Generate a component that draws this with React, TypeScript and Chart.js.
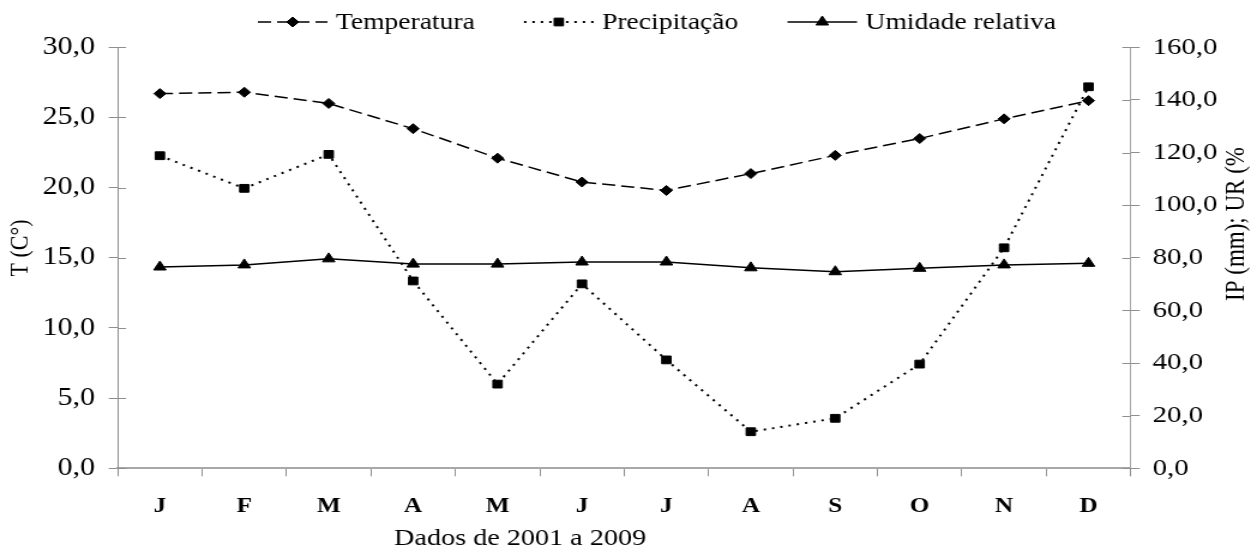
import React, { useEffect, useRef } from 'react';
import { Chart, registerables } from 'chart.js';

Chart.register(...registerables);

// ---- data ----
const months = ['J', 'F', 'M', 'A', 'M', 'J', 'J', 'A', 'S', 'O', 'N', 'D'];
const temperatura = [26.7, 26.8, 26.0, 24.2, 22.1, 20.4, 19.8, 21.0, 22.3, 23.5, 24.9, 26.2];
const precipitacao = [118.8, 106.4, 119.3, 71.2, 32.0, 70.1, 41.2, 13.9, 19.0, 39.6, 83.8, 145.0];
const umidade = [76.5, 77.3, 79.6, 77.6, 77.6, 78.4, 78.4, 76.2, 74.7, 76.0, 77.3, 77.9];
const seriesNames = ['Temperatura', 'Precipitação', 'Umidade relativa'];
const leftAxisRange = [0, 30, 5];
const rightAxisRange = [0, 160, 20];
const leftTitle = 'T (C°)';
const rightTitle = 'IP (mm); UR (%';
const xTitle = 'Dados de 2001 a 2009';

// ---- layout / style ----
const SCREEN_W = 1257;
const CH = 554;
const CW = 1048; // internal width, stretched horizontally to SCREEN_W like the reference
const FONT = '"Liberation Serif", "Times New Roman", Times, serif';
const GRAY = '#8f8f8f';

const fmt = (v: any) => Number(v).toFixed(1).replace('.', ',');

function drawMarker(ctx: CanvasRenderingContext2D, style: string, x: number, y: number, r: number) {
  ctx.beginPath();
  if (style === 'rectRot') {
    ctx.moveTo(x - r, y);
    ctx.lineTo(x, y - r);
    ctx.lineTo(x + r, y);
    ctx.lineTo(x, y + r);
  } else if (style === 'rect') {
    const s = r * Math.SQRT1_2;
    ctx.rect(x - s, y - s, 2 * s, 2 * s);
  } else {
    for (let k = 0; k < 3; k++) {
      const a = (k * 2 * Math.PI) / 3;
      const px = x + Math.sin(a) * r;
      const py = y - Math.cos(a) * r;
      if (k === 0) ctx.moveTo(px, py);
      else ctx.lineTo(px, py);
    }
  }
  ctx.closePath();
  ctx.fill();
  ctx.stroke();
}

const decorPlugin = {
  id: 'decor',
  afterDraw(chart: any) {
    const ctx: CanvasRenderingContext2D = chart.ctx;
    ctx.save();

    // inner halves of the crossing tick marks on the value axes
    ctx.strokeStyle = GRAY;
    ctx.lineWidth = 1;
    ctx.setLineDash([]);
    const yL = chart.scales.y;
    const yR = chart.scales.y1;
    yL.ticks.forEach((_t: any, i: number) => {
      const py = Math.round(yL.getPixelForTick(i)) + 0.5;
      ctx.beginPath();
      ctx.moveTo(yL.right, py);
      ctx.lineTo(yL.right + 7, py);
      ctx.stroke();
    });
    yR.ticks.forEach((_t: any, i: number) => {
      const py = Math.round(yR.getPixelForTick(i)) + 0.5;
      ctx.beginPath();
      ctx.moveTo(yR.left - 7, py);
      ctx.lineTo(yR.left, py);
      ctx.stroke();
    });

    // legend
    ctx.font = `23px ${FONT}`;
    ctx.textBaseline = 'middle';
    ctx.textAlign = 'left';
    let x = 215;
    const ly = 22;
    const sw = 58;
    chart.data.datasets.forEach((ds: any) => {
      ctx.strokeStyle = ds.borderColor;
      ctx.lineWidth = ds.borderWidth;
      ctx.setLineDash(ds.borderDash || []);
      ctx.beginPath();
      ctx.moveTo(x, ly);
      ctx.lineTo(x + sw, ly);
      ctx.stroke();
      ctx.setLineDash([]);
      ctx.fillStyle = '#000';
      ctx.strokeStyle = '#000';
      ctx.lineWidth = 1;
      drawMarker(ctx, ds.pointStyle, x + sw / 2, ly, ds.pointRadius);
      ctx.fillStyle = '#000';
      ctx.fillText(ds.label, x + sw + 7, ly + 1);
      x += sw + 7 + ctx.measureText(ds.label).width + 41;
    });

    // axis titles
    ctx.fillStyle = '#000';
    ctx.textAlign = 'center';
    ctx.textBaseline = 'middle';
    ctx.font = `22px ${FONT}`;
    ctx.save();
    ctx.translate(17.5, 248);
    ctx.rotate(-Math.PI / 2);
    ctx.fillText(leftTitle, 0, 0);
    ctx.restore();

    ctx.font = `23px ${FONT}`;
    ctx.save();
    ctx.translate(1031, 224);
    ctx.rotate(-Math.PI / 2);
    ctx.fillText(rightTitle, 0, 0);
    ctx.restore();

    ctx.font = `23.5px ${FONT}`;
    ctx.fillText(xTitle, 433.6, 539);

    ctx.restore();
  },
};

export default function App() {
  const ref = useRef<HTMLCanvasElement>(null);

  useEffect(() => {
    if (!ref.current) return;
    const chart = new Chart(ref.current, {
      type: 'line',
      data: {
        labels: months,
        datasets: [
          {
            label: seriesNames[0],
            data: temperatura,
            yAxisID: 'y',
            borderColor: '#000',
            backgroundColor: '#000',
            borderWidth: 1.5,
            borderDash: [11, 5],
            pointStyle: 'rectRot',
            pointRadius: 5,
            pointBorderWidth: 1,
            pointBackgroundColor: '#000',
            pointBorderColor: '#000',
            tension: 0,
            fill: false,
          },
          {
            label: seriesNames[1],
            data: precipitacao,
            yAxisID: 'y1',
            borderColor: '#000',
            backgroundColor: '#000',
            borderWidth: 2,
            borderDash: [2, 5],
            pointStyle: 'rect',
            pointRadius: 5.5,
            pointBorderWidth: 1,
            pointBackgroundColor: '#000',
            pointBorderColor: '#000',
            tension: 0,
            fill: false,
          },
          {
            label: seriesNames[2],
            data: umidade,
            yAxisID: 'y1',
            borderColor: '#000',
            backgroundColor: '#000',
            borderWidth: 1.5,
            pointStyle: 'triangle',
            pointRadius: 6,
            pointBorderWidth: 1,
            pointBackgroundColor: '#000',
            pointBorderColor: '#000',
            tension: 0,
            fill: false,
          },
        ],
      },
      options: {
        responsive: false,
        animation: false,
        devicePixelRatio: 1,
        events: [],
        layout: { padding: { top: 47.3, left: 0, right: 0, bottom: 0 } },
        plugins: {
          legend: { display: false },
          tooltip: { enabled: false },
          title: { display: false },
        },
        scales: {
          x: {
            type: 'category',
            offset: true,
            grid: {
              display: true,
              drawOnChartArea: false,
              offset: true,
              tickLength: 8,
              color: GRAY,
              lineWidth: 1,
            },
            border: { display: true, color: '#a8a8a8', width: 2 },
            ticks: {
              color: '#000',
              font: { family: FONT, size: 21, weight: 'bold' },
              padding: 18,
              maxRotation: 0,
              autoSkip: false,
            },
            afterFit: (s: any) => {
              s.height = 85.7;
            },
          },
          y: {
            position: 'left',
            min: leftAxisRange[0],
            max: leftAxisRange[1],
            grid: { display: true, drawOnChartArea: false, tickLength: 7.5, color: GRAY },
            border: { display: true, color: GRAY, width: 1 },
            ticks: {
              stepSize: leftAxisRange[2],
              color: '#000',
              font: { family: FONT, size: 25 },
              padding: 11.4,
              callback: (v: any) => fmt(v),
            },
            afterFit: (s: any) => {
              s.width = 98.1;
            },
          },
          y1: {
            position: 'right',
            min: rightAxisRange[0],
            max: rightAxisRange[1],
            grid: { display: true, drawOnChartArea: false, tickLength: 7.5, color: GRAY },
            border: { display: true, color: '#a8a8a8', width: 1 },
            ticks: {
              stepSize: rightAxisRange[2],
              color: '#000',
              font: { family: FONT, size: 24 },
              padding: 10.9,
              callback: (v: any) => fmt(v),
            },
            afterFit: (s: any) => {
              s.width = 105.3;
            },
          },
        },
      } as any,
      plugins: [decorPlugin],
    });
    return () => chart.destroy();
  }, []);

  return (
    <div style={{ position: 'fixed', left: 0, top: 0, width: SCREEN_W, height: CH, background: '#fff' }}>
      <canvas
        ref={ref}
        width={CW}
        height={CH}
        style={{ width: `${SCREEN_W}px`, height: `${CH}px`, display: 'block' }}
      />
    </div>
  );
}
